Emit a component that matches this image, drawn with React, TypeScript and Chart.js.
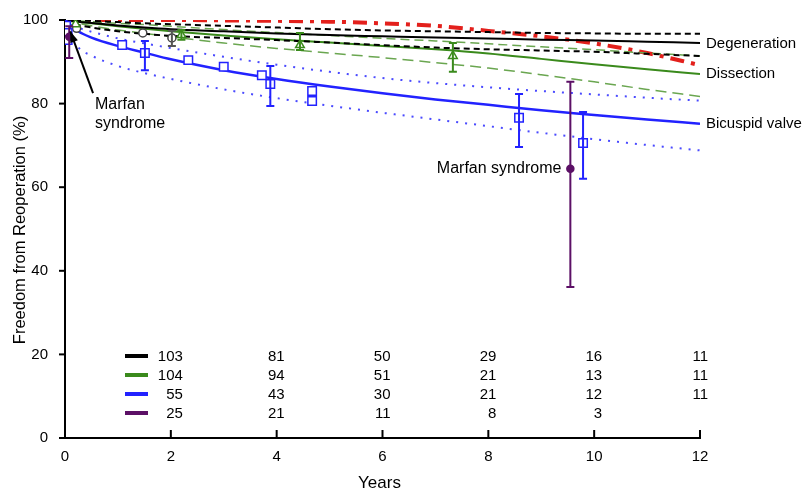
import React, { useEffect, useRef } from "react";
import { Chart, registerables } from "chart.js";
Chart.register(...registerables);

const FONT = '"Liberation Sans", Arial, Helvetica, sans-serif';

// ---- fitted curves (years vs freedom from reoperation %) ----
const curveYears = [0, 0.25, 0.5, 1, 1.5, 2, 3, 4, 5, 6, 7, 8, 9, 10, 11, 12];
const bicuspidFit = [100, 97.3, 95.8, 93.8, 92.2, 90.6, 88.0, 85.9, 84.1, 82.5, 81.0, 79.7, 78.4, 77.3, 76.2, 75.2];
const bicuspidUpper = [100, 98.2, 97.2, 95.6, 94.4, 93.3, 91.2, 89.3, 87.6, 86.1, 84.9, 83.9, 83.0, 82.2, 81.4, 80.7];
const bicuspidLower = [99, 93.5, 91.5, 89.0, 87.3, 85.9, 83.4, 81.3, 79.5, 77.8, 76.2, 74.6, 73.0, 71.5, 70.1, 68.8];
const dissectionFit = [100, 99.6, 99.2, 98.5, 97.9, 97.3, 96.3, 95.4, 94.6, 93.8, 93.0, 92.0, 90.7, 89.4, 88.2, 87.1];
const dissectionUpper = [100, 99.8, 99.6, 99.2, 98.9, 98.5, 97.7, 97.0, 96.3, 95.6, 95.0, 94.3, 93.6, 92.9, 92.1, 91.4];
const dissectionLower = [100, 99.2, 98.6, 97.6, 96.8, 96.0, 94.5, 93.2, 92.1, 91.0, 89.8, 88.5, 86.9, 85.2, 83.4, 81.7];
const degenerationFit = [100, 99.6, 99.3, 98.7, 98.2, 97.8, 97.3, 96.8, 96.4, 96.1, 95.8, 95.6, 95.3, 95.1, 94.8, 94.5];
const degenerationUpper = [100, 99.9, 99.8, 99.5, 99.2, 99.0, 98.6, 98.2, 97.8, 97.5, 97.3, 97.1, 96.9, 96.8, 96.7, 96.7];
const degenerationLower = [99.5, 98.8, 98.2, 97.3, 96.7, 96.2, 95.7, 95.2, 94.6, 94.0, 93.4, 93.0, 92.7, 92.4, 91.9, 91.4];
const marfanFit = [100, 100, 100, 100, 100, 100, 99.9, 99.8, 99.6, 99.2, 98.6, 97.4, 96.1, 94.4, 92.1, 89.2];

// ---- observed points ----
const bicuspidPtX = [0.02, 0.05, 0.05, 1.08, 1.51, 2.33, 3.0, 3.72, 3.88, 4.67, 4.67, 8.58, 9.79];
const bicuspidPtY = [98.6, 96.9, 95.2, 94.0, 92.1, 90.4, 88.8, 86.8, 84.7, 83.0, 80.6, 76.6, 70.6];
const dissectionPtX = [0.2, 2.2, 4.44, 7.33];
const dissectionPtY = [99.0, 96.4, 94.0, 91.4];
const degenerationPtX = [0.22, 1.47, 2.02];
const degenerationPtY = [98.0, 96.9, 95.7];
const marfanPtX = [0.08, 9.55];
const marfanPtY = [96.0, 64.4];

// ---- error bars ----
const bicuspidErrX = [1.51, 3.88, 8.58, 9.79];
const bicuspidErrLo = [88.0, 79.4, 69.6, 62.0];
const bicuspidErrHi = [95.0, 89.0, 82.3, 78.0];
const dissectionErrX = [2.2, 4.44, 7.33];
const dissectionErrLo = [95.3, 92.8, 87.6];
const dissectionErrHi = [97.6, 96.9, 94.5];
const degenerationErrX = [2.02];
const degenerationErrLo = [93.8];
const degenerationErrHi = [97.4];
const marfanErrX = [0.08, 9.55];
const marfanErrLo = [90.9, 36.1];
const marfanErrHi = [98.5, 85.2];

// ---- numbers at risk ----
const riskYears = [2, 4, 6, 8, 10, 12];
const riskDegeneration = [103, 81, 50, 29, 16, 11];
const riskDissection = [104, 94, 51, 21, 13, 11];
const riskBicuspid = [55, 43, 30, 21, 12, 11];
const riskMarfan = [25, 21, 11, 8, 3];

const BLACK = "#000000";
const GREEN = "#3a8a1c";
const GREEN_LIGHT = "#6aa650";
const BLUE = "#2222ff";
const BLUE_DOT = "#4a4aff";
const RED = "#e3201c";
const PURPLE = "#5c1066";

const pts = (xs: number[], ys: number[]) => xs.map((x, i) => ({ x, y: ys[i] }));

function curve(ys: number[], color: string, width: number, dash: number[] = []) {
  return {
    data: pts(curveYears, ys),
    borderColor: color,
    borderWidth: width,
    borderDash: dash,
    pointRadius: 0,
    fill: false,
    cubicInterpolationMode: "monotone" as const,
  };
}

function markers(xs: number[], ys: number[], color: string, style: string, r: number, fill: string) {
  return {
    data: pts(xs, ys),
    showLine: false,
    pointStyle: style,
    pointRadius: r,
    pointBorderColor: color,
    pointBackgroundColor: fill,
    pointBorderWidth: 1.5,
    borderColor: color,
  };
}

const overlay = {
  id: "overlay",
  afterDatasetsDraw(chart: any) {
    const { ctx, scales } = chart;
    const xs = scales.x, ys = scales.y;
    const bars = (X: number[], L: number[], H: number[], color: string) => {
      ctx.save();
      ctx.strokeStyle = color;
      ctx.lineWidth = 2;
      X.forEach((x, i) => {
        const px = xs.getPixelForValue(x);
        const lo = ys.getPixelForValue(L[i]);
        const hi = ys.getPixelForValue(H[i]);
        ctx.beginPath();
        ctx.moveTo(px, lo); ctx.lineTo(px, hi);
        ctx.moveTo(px - 4, lo); ctx.lineTo(px + 4, lo);
        ctx.moveTo(px - 4, hi); ctx.lineTo(px + 4, hi);
        ctx.stroke();
      });
      ctx.restore();
    };
    bars(degenerationErrX, degenerationErrLo, degenerationErrHi, "#555555");
    bars(dissectionErrX, dissectionErrLo, dissectionErrHi, GREEN);
    bars(bicuspidErrX, bicuspidErrLo, bicuspidErrHi, BLUE);
    bars(marfanErrX, marfanErrLo, marfanErrHi, PURPLE);
  },
  afterDraw(chart: any) {
    const { ctx, scales, chartArea } = chart;
    const xs = scales.x, ys = scales.y;
    ctx.save();
    // tick marks
    ctx.strokeStyle = "#000";
    ctx.lineWidth = 2;
    ys.ticks.forEach((t: any) => {
      const py = ys.getPixelForValue(t.value);
      ctx.beginPath();
      ctx.moveTo(chartArea.left - 6, py);
      ctx.lineTo(chartArea.left, py);
      ctx.stroke();
    });
    xs.ticks.forEach((t: any) => {
      if (t.value === 0) return;
      const px = xs.getPixelForValue(t.value);
      ctx.beginPath();
      ctx.moveTo(px, chartArea.bottom);
      ctx.lineTo(px, chartArea.bottom - 8);
      ctx.stroke();
    });

    // axis titles
    ctx.fillStyle = "#000";
    ctx.font = `17px ${FONT}`;
    ctx.textAlign = "center";
    ctx.textBaseline = "middle";
    ctx.fillText("Years", (chartArea.left + chartArea.right) / 2 - 3, 483);
    ctx.save();
    ctx.translate(20, 230);
    ctx.rotate(-Math.PI / 2);
    ctx.font = `16.5px ${FONT}`;
    ctx.fillText("Freedom from Reoperation (%)", 0, 0);
    ctx.restore();

    // curve labels
    ctx.textAlign = "left";
    ctx.font = `15px ${FONT}`;
    const lx = chartArea.right + 6;
    ctx.fillText("Degeneration", lx, ys.getPixelForValue(degenerationFit[degenerationFit.length - 1]) + 1);
    ctx.fillText("Dissection", lx, ys.getPixelForValue(dissectionFit[dissectionFit.length - 1]));
    ctx.fillText("Bicuspid valve", lx, ys.getPixelForValue(bicuspidFit[bicuspidFit.length - 1]));

    ctx.font = `16px ${FONT}`;
    ctx.textAlign = "right";
    ctx.fillText("Marfan syndrome", xs.getPixelForValue(marfanPtX[1]) - 9, ys.getPixelForValue(marfanPtY[1]));
    ctx.textAlign = "left";
    ctx.fillText("Marfan", 95, 105);
    ctx.fillText("syndrome", 95, 124);

    // arrow
    const tipX = xs.getPixelForValue(0.1), tipY = ys.getPixelForValue(97.3);
    const tailX = xs.getPixelForValue(0.53), tailY = ys.getPixelForValue(82.5);
    ctx.strokeStyle = "#000";
    ctx.lineWidth = 2;
    ctx.beginPath();
    ctx.moveTo(tailX, tailY);
    ctx.lineTo(tipX, tipY);
    ctx.stroke();
    const ang = Math.atan2(tipY - tailY, tipX - tailX);
    ctx.beginPath();
    ctx.moveTo(tipX, tipY);
    ctx.lineTo(tipX - 11 * Math.cos(ang) + 4 * Math.sin(ang), tipY - 11 * Math.sin(ang) - 4 * Math.cos(ang));
    ctx.lineTo(tipX - 11 * Math.cos(ang) - 4 * Math.sin(ang), tipY - 11 * Math.sin(ang) + 4 * Math.cos(ang));
    ctx.closePath();
    ctx.fillStyle = "#000";
    ctx.fill();

    // numbers at risk
    const rows = [
      { color: BLACK, vals: riskDegeneration },
      { color: GREEN, vals: riskDissection },
      { color: BLUE, vals: riskBicuspid },
      { color: PURPLE, vals: riskMarfan },
    ];
    ctx.font = `15px ${FONT}`;
    ctx.textAlign = "right";
    rows.forEach((r, i) => {
      const py = 356 + i * 19;
      ctx.strokeStyle = r.color;
      ctx.lineWidth = 4;
      ctx.beginPath();
      ctx.moveTo(125, py);
      ctx.lineTo(148, py);
      ctx.stroke();
      ctx.fillStyle = "#000";
      r.vals.forEach((v, j) => {
        const px = xs.getPixelForValue(riskYears[j]) + (j === 0 ? 12 : 8);
        ctx.fillText(String(v), px, py + 1);
      });
    });
    ctx.restore();
  },
};

export default function App() {
  const ref = useRef<HTMLCanvasElement>(null);
  useEffect(() => {
    const canvas = ref.current!;
    const chart = new Chart(canvas, {
      type: "line",
      data: {
        datasets: [
          markers(marfanPtX, marfanPtY, PURPLE, "circle", 3.5, PURPLE),
          markers(bicuspidPtX, bicuspidPtY, BLUE, "rect", 6, "#ffffff"),
          markers(dissectionPtX, dissectionPtY, GREEN, "triangle", 5, "#ffffff"),
          markers(degenerationPtX, degenerationPtY, "#444444", "circle", 4, "#ffffff"),
          curve(bicuspidFit, BLUE, 2.5),
          curve(bicuspidUpper, BLUE_DOT, 2, [2, 7]),
          curve(bicuspidLower, BLUE_DOT, 2, [2, 7]),
          curve(degenerationFit, BLACK, 2),
          curve(degenerationUpper, BLACK, 2, [6, 4]),
          curve(degenerationLower, BLACK, 2, [6, 4]),
          curve(dissectionFit, GREEN, 2),
          curve(dissectionUpper, GREEN_LIGHT, 1.5, [9, 5]),
          curve(dissectionLower, GREEN_LIGHT, 1.5, [11, 6]),
          curve(marfanFit, RED, 4, [14, 7, 4, 7]),
        ] as any,
      },
      options: {
        animation: false,
        responsive: false,
        devicePixelRatio: 1,
        layout: { padding: { left: 0, right: 112, top: 20, bottom: 0 } },
        plugins: { legend: { display: false }, tooltip: { enabled: false } },
        scales: {
          x: {
            type: "linear",
            min: 0,
            max: 12,
            afterFit: (s: any) => { s.height = 54; },
            grid: { display: false },
            border: { display: true, color: "#000", width: 2 },
            ticks: { stepSize: 2, color: "#000", font: { family: FONT, size: 15 }, padding: 2, maxRotation: 0 },
          },
          y: {
            type: "linear",
            min: 0,
            max: 100,
            afterFit: (s: any) => { s.width = 65; },
            grid: { display: false },
            border: { display: true, color: "#000", width: 2 },
            ticks: { stepSize: 20, color: "#000", font: { family: FONT, size: 15 }, padding: 9 },
          },
        },
      } as any,
      plugins: [overlay],
    });
    return () => chart.destroy();
  }, []);
  return (
    <div style={{ position: "absolute", left: 0, top: 0, width: 812, height: 492, background: "#fff" }}>
      <canvas ref={ref} width={812} height={492} style={{ display: "block" }} />
    </div>
  );
}
